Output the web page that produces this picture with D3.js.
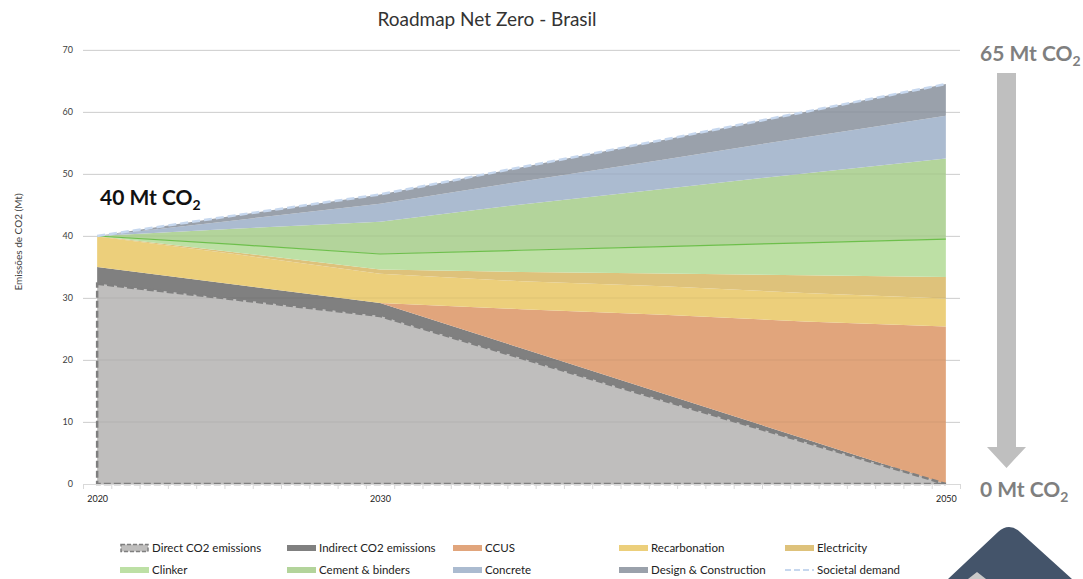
<!DOCTYPE html>
<html>
<head>
<meta charset="utf-8">
<script src="https://cdn.jsdelivr.net/npm/d3@7"></script>
<style>
  body { margin: 0; background: #fff; }
  svg { font-family: Lato, "Open Sans", sans-serif; }
</style>
</head>
<body>
<svg id="chart" width="1083" height="579"></svg>
<script>
// years
var years = [2020, 2025, 2030, 2035, 2040, 2045, 2050];

// Mt CO2 per wedge, stacked bottom to top
var direct       = [32.3, 29.7, 27.1, 20.3, 13.5, 6.8, 0];
var indirect     = [2.7, 2.4, 2.1, 1.6, 1.1, 0.5, 0];
var ccus         = [0, 0, 0, 6.3, 12.7, 18.9, 25.4];
var recarbonation = [4.9, 4.9, 4.7, 4.5, 4.6, 4.6, 4.5];
var electricity  = [0.1, 0.3, 0.7, 1.5, 2.05, 2.85, 3.5];
var clinker      = [0, 1.3, 2.5, 3.5, 4.35, 5.25, 6.1];
var cement       = [0, 2.6, 5.2, 7.4, 9.3, 11.2, 13.0];
var concrete     = [0, 1.4, 2.9, 3.7, 4.7, 5.8, 6.9];
var design       = [0, 0.8, 1.5, 2.3, 3.2, 4.1, 5.1];

var keys = ["direct", "indirect", "ccus", "recarbonation", "electricity",
            "clinker", "cement", "concrete", "design"];
var colors = {
  direct: "#bfbebd", indirect: "#808080", ccus: "#e1a57c",
  recarbonation: "#eccf7b", electricity: "#dec27b", clinker: "#bde0a5",
  cement: "#b3d49b", concrete: "#abbbd0", design: "#9aa1ab"
};

var yTicks = [0, 10, 20, 30, 40, 50, 60, 70];
var xLabels = [2020, 2030, 2050];

var series = {direct: direct, indirect: indirect, ccus: ccus,
  recarbonation: recarbonation, electricity: electricity, clinker: clinker,
  cement: cement, concrete: concrete, design: design};

var data = years.map(function(yr, i) {
  var row = {year: yr};
  keys.forEach(function(k) { row[k] = series[k][i]; });
  return row;
});

var svg = d3.select("#chart");

var x = d3.scaleLinear().domain([2019.5, 2050.5]).range([83, 960]);
var y = d3.scaleLinear().domain([0, 70]).range([484, 50]);

// title
svg.append("text")
    .attr("x", 487).attr("y", 26)
    .attr("text-anchor", "middle")
    .attr("font-size", 19)
    .attr("fill", "#333")
    .text("Roadmap Net Zero - Brasil");

// grid + y labels
var yAxis = svg.append("g")
    .attr("transform", "translate(83,0)")
    .call(d3.axisLeft(y).tickValues(yTicks).tickSize(-(960 - 83)).tickPadding(10));
yAxis.select(".domain").remove();
yAxis.selectAll("line").attr("stroke", "#d9d9d9");
yAxis.selectAll("text").attr("font-size", 9).attr("fill", "#404040")
    .attr("font-family", "Lato, sans-serif");

svg.append("text")
    .attr("transform", "translate(22,242) rotate(-90)")
    .attr("text-anchor", "middle")
    .attr("font-size", 10)
    .attr("fill", "#404040")
    .text("Emissões de CO2 (Mt)");

var stack = d3.stack().keys(keys)(data);

var area = d3.area()
    .x(function(d) { return x(d.data.year); })
    .y0(function(d) { return y(d[0]); })
    .y1(function(d) { return y(d[1]); });

svg.append("g")
  .selectAll("path")
  .data(stack)
  .enter().append("path")
    .attr("d", area)
    .attr("fill", function(d) { return colors[d.key]; });

// faint grid showing through the areas
svg.append("g")
  .selectAll("line")
  .data(yTicks.slice(1))
  .enter().append("line")
    .attr("x1", 83).attr("x2", 960)
    .attr("y1", function(d) { return y(d); })
    .attr("y2", function(d) { return y(d); })
    .attr("stroke", "#000")
    .attr("stroke-opacity", 0.06);

// dashed outline of direct emissions
svg.append("path")
    .datum(stack[0])
    .attr("d", area)
    .attr("fill", "none")
    .attr("stroke", "#7f7f7f")
    .attr("stroke-width", 2.5)
    .attr("stroke-dasharray", "7,3");

// green line on top of clinker
var line = d3.line()
    .x(function(d) { return x(d.data.year); })
    .y(function(d) { return y(d[1]); });

svg.append("path")
    .datum(stack[5])
    .attr("d", line)
    .attr("fill", "none")
    .attr("stroke", "#6dbf4b")
    .attr("stroke-width", 1.2);

// societal demand
svg.append("path")
    .datum(stack[8])
    .attr("d", line)
    .attr("fill", "none")
    .attr("stroke", "#c6d7ee")
    .attr("stroke-width", 2.5)
    .attr("stroke-dasharray", "8,4");

// x axis
var xTicks = d3.range(2019.5, 2051, 1);
var xAxis = svg.append("g")
    .attr("transform", "translate(0,484)")
    .call(d3.axisBottom(x).tickValues(xTicks).tickSize(5).tickFormat(""));
xAxis.selectAll("line, path").attr("stroke", "#d9d9d9");

var xLab = svg.append("g")
    .attr("transform", "translate(0,484)")
    .call(d3.axisBottom(x).tickValues(xLabels).tickSize(0).tickPadding(12).tickFormat(d3.format("d")));
xLab.select(".domain").remove();
xLab.selectAll("text").attr("font-size", 9).attr("fill", "#222")
    .attr("font-family", "Lato, sans-serif");

// annotations
function co2Label(xp, yp, txt, color) {
  var t = svg.append("text")
      .attr("x", xp).attr("y", yp)
      .attr("font-size", 21)
      .attr("font-weight", "bold")
      .attr("fill", color);
  t.append("tspan").text(txt);
  t.append("tspan").attr("font-size", 14).attr("dy", 5).text("2");
}
co2Label(100, 205, "40 Mt CO", "#111");
co2Label(980, 61, "65 Mt CO", "#7f7f7f");
co2Label(980, 497, "0 Mt CO", "#7f7f7f");

// arrow
svg.append("path")
    .attr("d", "M997,73 L1016,73 L1016,447 L1026,447 L1006.5,468 L987,447 L997,447 Z")
    .attr("fill", "#bfbfbf");

// logo corner
svg.append("path")
    .attr("d", "M948,579 L998,532 Q1009,522 1020,532 L1072,579 Z")
    .attr("fill", "#44546a");
svg.append("path")
    .attr("d", "M968,579 L977,572 L986,579 Z")
    .attr("fill", "#c9c9c9");

// legend
var legendItems = [
  {key: "direct", label: "Direct CO2 emissions", col: 0, row: 0},
  {key: "indirect", label: "Indirect CO2 emissions", col: 1, row: 0},
  {key: "ccus", label: "CCUS", col: 2, row: 0},
  {key: "recarbonation", label: "Recarbonation", col: 3, row: 0},
  {key: "electricity", label: "Electricity", col: 4, row: 0},
  {key: "clinker", label: "Clinker", col: 0, row: 1},
  {key: "cement", label: "Cement & binders", col: 1, row: 1},
  {key: "concrete", label: "Concrete", col: 2, row: 1},
  {key: "design", label: "Design & Construction", col: 3, row: 1},
  {key: "societal", label: "Societal demand", col: 4, row: 1}
];
var colX = [120, 287, 453, 619, 785];
var rowY = [548, 570];

var legend = svg.append("g")
  .selectAll("g")
  .data(legendItems)
  .enter().append("g")
    .attr("transform", function(d) { return "translate(" + colX[d.col] + "," + rowY[d.row] + ")"; });

legend.each(function(d) {
  var g = d3.select(this);
  if (d.key === "societal") {
    g.append("line").attr("x1", 0).attr("x2", 29).attr("y1", 0).attr("y2", 0)
      .attr("stroke", "#c6d7ee").attr("stroke-width", 2).attr("stroke-dasharray", "6,3");
  } else if (d.key === "direct") {
    g.append("rect").attr("x", 1).attr("y", -3.5).attr("width", 27).attr("height", 7)
      .attr("fill", "#bfbebd").attr("stroke", "#7f7f7f").attr("stroke-width", 1.5)
      .attr("stroke-dasharray", "4,2");
  } else {
    g.append("rect").attr("x", 0).attr("y", -3).attr("width", 29).attr("height", 6)
      .attr("fill", colors[d.key]);
  }
  g.append("text").attr("x", 32).attr("y", 4)
    .attr("font-size", 11.5).attr("fill", "#222")
    .text(d.label);
});
</script>
</body>
</html>
